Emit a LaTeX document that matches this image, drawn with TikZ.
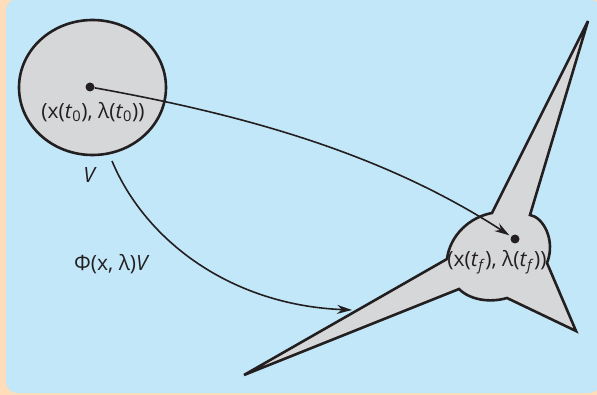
\documentclass[tikz,border=0pt]{standalone}
\usepackage{fontspec}
\setmainfont{Open Sans}
\usepackage{tikz}
\usetikzlibrary{arrows.meta, shapes.geometric}
\definecolor{panelbg}{HTML}{C2E7F9}
\definecolor{framebg}{HTML}{FFDDBA}
\definecolor{volfill}{HTML}{D6D7D9}
\definecolor{inkdark}{HTML}{231F20}
\newcommand{\tsubz}{\textit{t}\textsubscript{0}}
\newcommand{\tsubf}{\textit{t}\textsubscript{\textit{f}}}
\tikzset{
  vol/.style={draw=inkdark, fill=volfill, line width=2.6pt},
  lbl/.style={inner sep=0pt, text=inkdark, font=\fontsize{21}{25}\selectfont},
  tipdot/.style={circle, fill=inkdark, inner sep=0pt, minimum size=9pt},
  flow/.style={-{Stealth[length=15pt, width=9pt, inset=5pt]}, draw=inkdark, line width=1.6pt}
}

\begin{document}
\begin{tikzpicture}[x=1pt, y=-1pt]
\useasboundingbox (0,0) rectangle (597,395);
\clip (0,0) rectangle (597,395);
\fill[framebg] (0,0) rectangle (597,395);
\fill[panelbg, rounded corners=11pt] (6,-1) rectangle (600,393);
% volume at t0
\node[vol, ellipse, minimum width=147pt, minimum height=135pt] (vol0) at (92.5,87.5) {};
% volume at tf
\draw[vol, line join=miter] (447,259) .. controls (450,235) and (470,217) .. (492,213)
  -- (588,21) -- (530,215) .. controls (543,217) and (556,240) .. (547,263)
  -- (576,331) -- (507,298) .. controls (490,303) and (470,300) .. (459,289)
  -- (244,375) -- cycle;
\node[tipdot] (p0) at (90,87) {};
\node[tipdot] (pf) at (515,239) {};
\node[lbl] (lab0) at (93,112) {(x(\tsubz), λ(\tsubz))};
\node[lbl] (labf) at (497,262) {(x(\tsubf), λ(\tsubf))};
\node[lbl] (labv) at (90,175) {\textit{V}};
\node[lbl, anchor=west] (labphi) at (74,264) {Φ(x, λ)\textit{V}};
\coordinate (vtail) at (112,161);
\coordinate (vhead) at (352,310);
\draw[flow, shorten >=2pt] (p0) .. controls (240,114) and (381,152) .. (pf);
\draw[flow] (vtail) .. controls (145,240) and (230,305) .. (vhead);
\end{tikzpicture}
\end{document}
